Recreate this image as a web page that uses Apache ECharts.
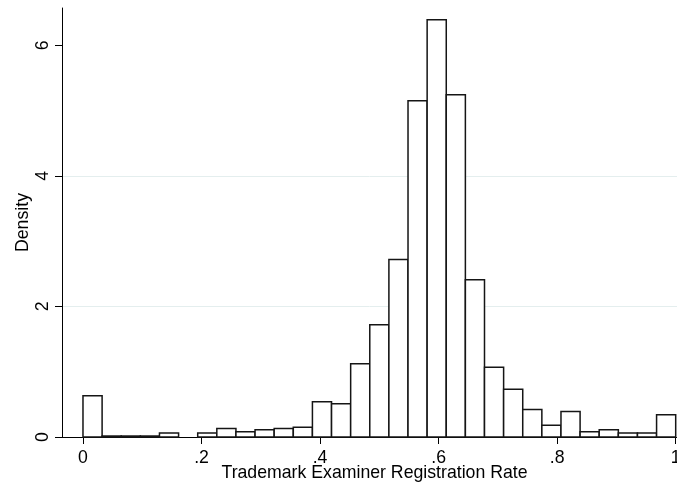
<!DOCTYPE html>
<html>
<head>
<meta charset="utf-8">
<script src="https://cdn.jsdelivr.net/npm/echarts@6/dist/echarts.min.js"></script>
<style>
html,body{margin:0;padding:0;background:#fff;}
#c{width:677px;height:488px;}
</style>
</head>
<body>
<div id="c"></div>
<script>
// Histogram: 31 equal-width bins over [0, 1]
const binMin = 0;
const binMax = 1;
const binCount = 31;
const densities = [0.63, 0.015, 0.015, 0.015, 0.06, 0, 0.06, 0.13, 0.08, 0.11, 0.13, 0.15, 0.54, 0.51, 1.12, 1.72, 2.72, 5.15, 6.39, 5.24, 2.41, 1.07, 0.73, 0.42, 0.18, 0.39, 0.08, 0.11, 0.06, 0.06, 0.34];
const xTicks = [0, 0.2, 0.4, 0.6, 0.8, 1];
const xTickLabels = ['0', '.2', '.4', '.6', '.8', '1'];
const yTicks = [0, 2, 4, 6];
const yTickLabels = ['0', '2', '4', '6'];
const xTitle = 'Trademark Examiner Registration Rate';
const yTitle = 'Density';

const binWidth = (binMax - binMin) / binCount;
const histData = densities.map((d, i) => [binMin + i * binWidth, binMin + (i + 1) * binWidth, d]);

const font = 'Liberation Sans, Arial, sans-serif';
const fs = 17.7;
const chart = echarts.init(document.getElementById('c'), null, {renderer: 'canvas'});
chart.setOption({
  animation: false,
  backgroundColor: '#ffffff',
  grid: {left: 62, top: 8, width: 615, height: 429, containLabel: false, outerBoundsMode: 'none'},
  xAxis: {
    type: 'value',
    min: -0.0354,
    max: 1.0022,
    name: xTitle,
    nameLocation: 'middle',
    nameGap: 27,
    nameMoveOverlap: false,
    nameTextStyle: {fontFamily: font, fontSize: fs, color: '#000', padding: [0, 0, 0, 10]},
    axisLine: {show: true, onZero: false, lineStyle: {color: '#000', width: 1}},
    axisTick: {show: true, inside: false, length: 7, customValues: xTicks, lineStyle: {color: '#000', width: 1}},
    axisLabel: {
      customValues: xTicks,
      margin: 12,
      fontFamily: font, fontSize: fs, color: '#000',
      formatter: v => xTickLabels[xTicks.findIndex(t => Math.abs(t - v) < 1e-9)]
    },
    splitLine: {show: false}
  },
  yAxis: {
    type: 'value',
    min: 0,
    max: 6.57,
    name: yTitle,
    nameLocation: 'middle',
    nameGap: 30,
    nameRotate: 90,
    nameMoveOverlap: false,
    nameTextStyle: {fontFamily: font, fontSize: fs, color: '#000'},
    axisLine: {show: true, onZero: false, lineStyle: {color: '#000', width: 1}},
    axisTick: {show: true, inside: false, length: 7, customValues: yTicks, lineStyle: {color: '#000', width: 1}},
    axisLabel: {
      customValues: yTicks,
      rotate: 90,
      margin: 10,
      fontFamily: font, fontSize: fs, color: '#000',
      formatter: v => yTickLabels[yTicks.findIndex(t => Math.abs(t - v) < 1e-9)]
    },
    splitLine: {show: true, showMinLine: false, showMaxLine: false, lineStyle: {color: '#e4eeee', width: 1}}
  },
  series: [{
    type: 'custom',
    data: histData,
    clip: false,
    renderItem: function (params, api) {
      const h = api.value(2);
      if (!(h > 0)) return null;
      const p0 = api.coord([api.value(0), h]);
      const p1 = api.coord([api.value(1), 0]);
      return {
        type: 'rect',
        shape: {x: p0[0], y: p0[1], width: p1[0] - p0[0], height: p1[1] - p0[1]},
        style: {fill: '#ffffff', stroke: '#151515', lineWidth: 1.5}
      };
    }
  }]
});
</script>
</body>
</html>
